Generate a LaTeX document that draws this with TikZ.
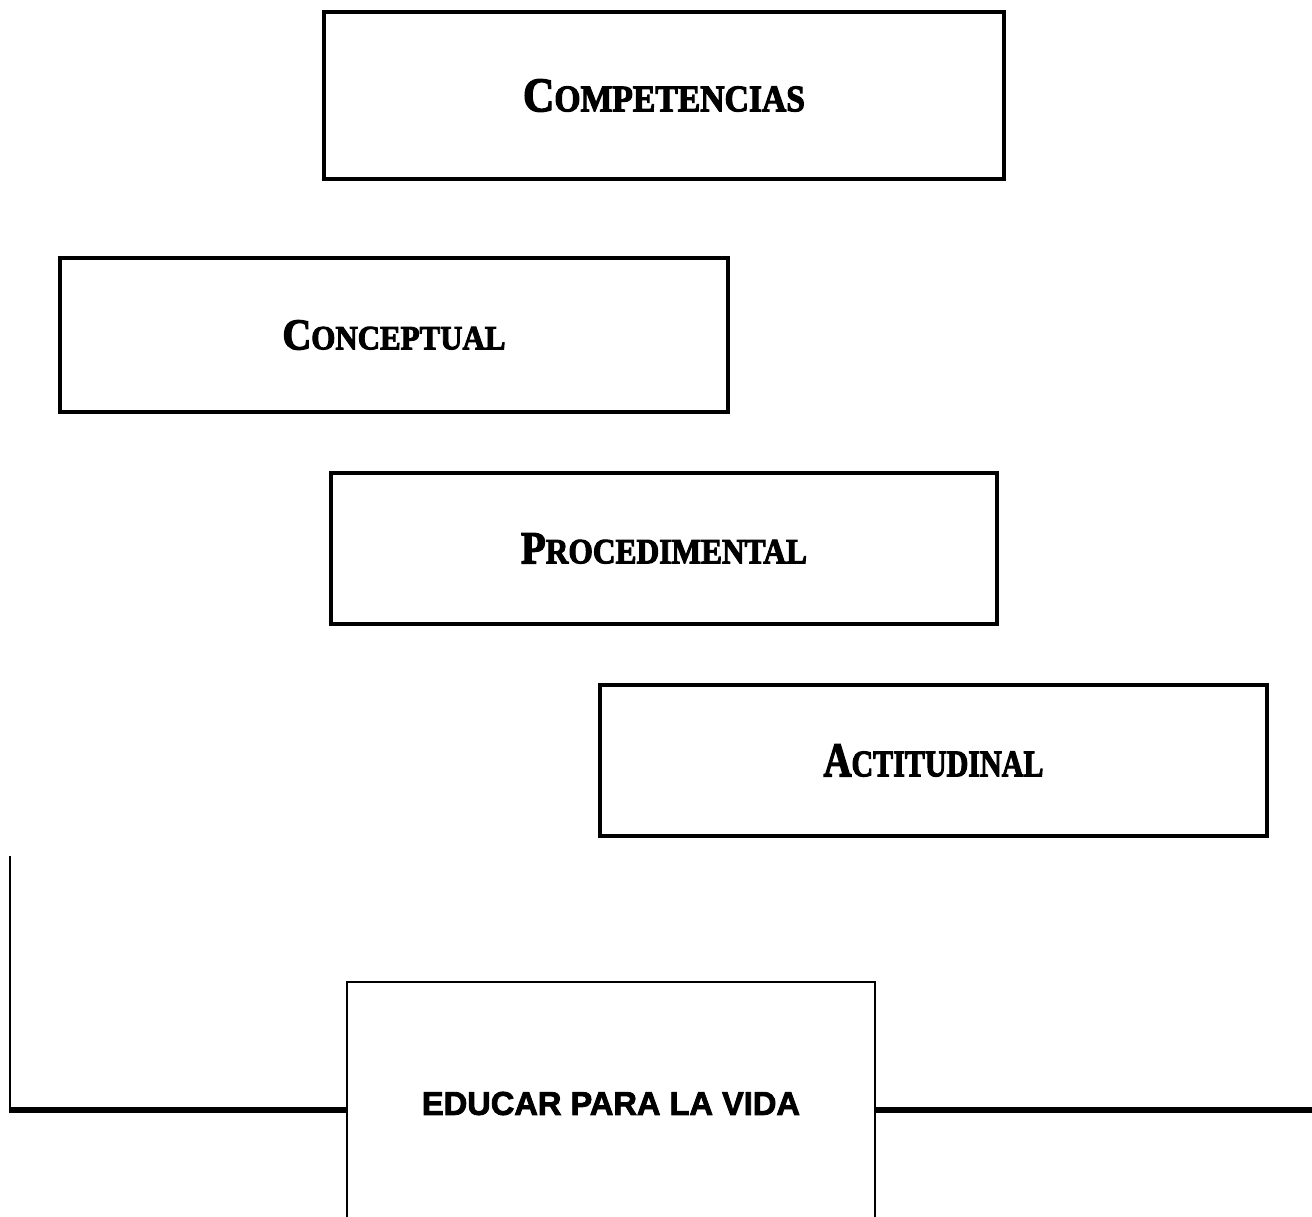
\documentclass[tikz,border=0pt]{standalone}
\usepackage{fontspec}
\usepackage{graphicx}
\setmainfont{Liberation Serif}
\newfontfamily\lvlfont[FakeBold=3]{Liberation Serif}
\newfontfamily\edufont[FakeBold=2.5]{Liberation Sans}
\newcommand\fakesc[2]{{\fontsize{40}{40}\selectfont #1}{\fontsize{31}{31}\selectfont #2}}
\tikzset{
  levelbox/.style={draw=black, line width=4pt, inner sep=0pt, fill=none},
  thinline/.style={draw=black, line width=2pt},
  thickline/.style={draw=black, line width=6pt},
}
\begin{document}
\begin{tikzpicture}[x=1pt,y=-1pt]
\useasboundingbox[fill=white] (0,0) rectangle (1312,1217);
\node[levelbox, minimum width=680pt, minimum height=167pt] (comp) at (664,95.5)
  {\resizebox{282pt}{32pt}{\lvlfont\bfseries\fakesc{C}{OMPETENCIAS}}};
\node[levelbox, minimum width=668pt, minimum height=154pt] (conc) at (394,335)
  {\resizebox{223pt}{29pt}{\lvlfont\bfseries\fakesc{C}{ONCEPTUAL}}};
\node[levelbox, minimum width=666pt, minimum height=151pt] (proc) at (664,548.5)
  {\resizebox{286pt}{30pt}{\lvlfont\bfseries\fakesc{P}{ROCEDIMENTAL}}};
\node[levelbox, minimum width=667pt, minimum height=151pt] (acti) at (933.5,760.5)
  {\resizebox{220pt}{32pt}{\lvlfont\bfseries\fakesc{A}{CTITUDINAL}}};
% bottom box (open at the bottom)
\node[inner sep=0pt] (edu) at (611,1103.5)
  {\resizebox{378pt}{23pt}{\edufont\bfseries EDUCAR PARA LA VIDA}};
\coordinate (eduTL) at (347,982);
\coordinate (eduTR) at (875,982);
\coordinate (eduBL) at (347,1218);
\coordinate (eduBR) at (875,1218);
\draw[thinline] (eduBL) -- (eduTL) -- (eduTR) -- (eduBR);
% side lines
\coordinate (vtop) at (10,856);
\coordinate (vbot) at (10,1107);
\coordinate (lstart) at (9,1110);
\coordinate (rend) at (1312,1110);
\draw[thinline] (vtop) -- (vbot);
\draw[thickline] (lstart) -- (lstart -| eduTL);
\draw[thickline] (rend -| eduTR) -- (rend);
\end{tikzpicture}
\end{document}
